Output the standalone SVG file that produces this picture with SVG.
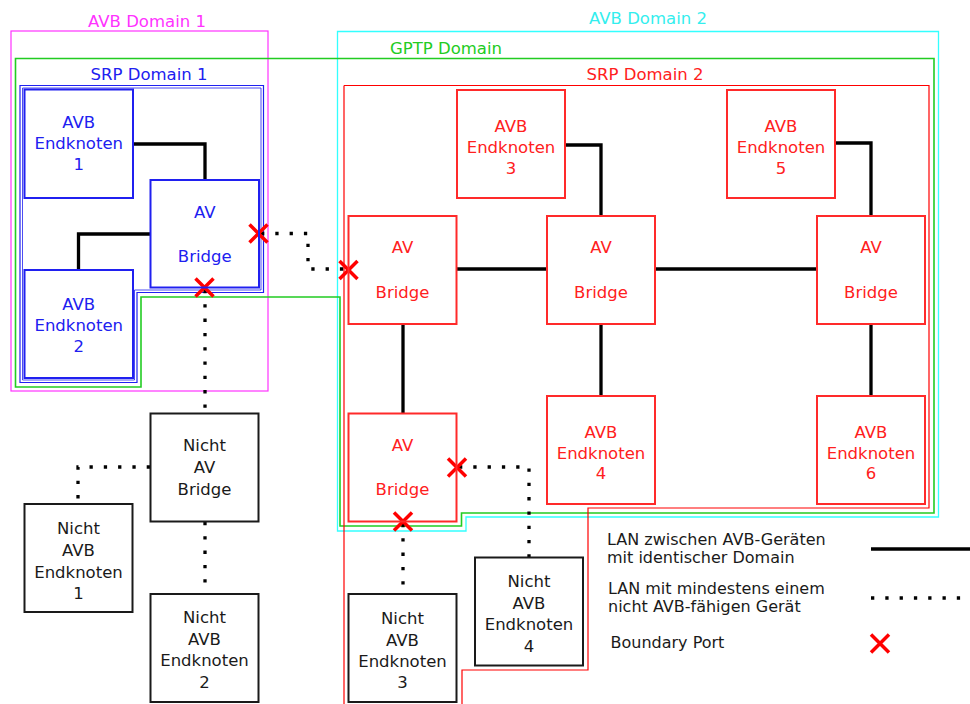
<svg xmlns="http://www.w3.org/2000/svg" xmlns:xlink="http://www.w3.org/1999/xlink" width="970" height="704" viewBox="0 0 970 704">
<style>
text{font-family:"DejaVu Sans","Liberation Sans",sans-serif;font-size:16.5px;text-anchor:middle}
.blue rect{fill:none;stroke:#2020f0;stroke-width:2}
.blue text{fill:#2020f0}
.red rect{fill:none;stroke:#ff2a2a;stroke-width:2}
.red text{fill:#ff2020}
.black rect{fill:none;stroke:#1a1a1a;stroke-width:2}
.black text{fill:#1a1a1a}
.dom{fill:none}
.solid{fill:none;stroke:#000;stroke-width:3.3}
.dot{fill:none;stroke:#000;stroke-width:3.3;stroke-dasharray:3.3 11}
.leg{text-anchor:start;fill:#1a1a1a;font-size:16px}
</style>
<defs>
<path id="bx" d="M-9,-9L9,9M-9,9L9,-9" stroke="#ff0000" stroke-width="3.5" fill="none"/>
</defs>

<g id="domains">
<rect class="dom" x="11" y="31" width="257" height="360" stroke="#ff33ff" stroke-width="1.2"/>
<text x="147" y="26.5" fill="#ff33ff">AVB Domain 1</text>
<path class="dom" d="M337.5,31.5H938.5V517H466V531H337.5Z" stroke="#33ffff" stroke-width="1.3"/>
<text x="648" y="24" fill="#33eeee">AVB Domain 2</text>
<path class="dom" d="M15.5,58.5H934V513H461.5V526H340V297H141V387H15.5Z" stroke="#22cc22" stroke-width="1.6"/>
<text x="446" y="54" fill="#22cc22">GPTP Domain</text>
<path class="dom" d="M20,85.5H263.5V292.5H137V382.5H20Z" stroke="#2020f0" stroke-width="1.2"/>
<path class="dom" d="M22.5,88H261V290H134.5V380H22.5Z" stroke="#2020f0" stroke-width="0.8"/>
<text x="149" y="80" fill="#2020f0">SRP Domain 1</text>
<path class="dom" d="M344,85.5H929V508H588V670H462V712M344,85.5V712" stroke="#ff0000" stroke-width="1.2"/>
<text x="645" y="80" fill="#ff2020">SRP Domain 2</text>
</g>

<g id="connectors">
<path class="solid" d="M133,144H205V180"/>
<path class="solid" d="M150,234H78.5V270"/>
<path class="solid" d="M565,145H601V216"/>
<path class="solid" d="M835,143H871V216"/>
<path class="solid" d="M457,269H547"/>
<path class="solid" d="M655,269H817"/>
<path class="solid" d="M403,324V413"/>
<path class="solid" d="M601,324V396"/>
<path class="solid" d="M871,324V396"/>
<path class="dot" d="M261,233.5H308V269H348"/>
<path class="dot" d="M205,290V413"/>
<path class="dot" d="M150,467H78V504"/>
<path class="dot" d="M205,522V594"/>
<path class="dot" d="M403,524V594"/>
<path class="dot" d="M459,467H529V557"/>
</g>

<g id="ports">
<use xlink:href="#bx" x="258.5" y="233.5"/>
<use xlink:href="#bx" x="204.5" y="287.5"/>
<use xlink:href="#bx" x="348.5" y="270"/>
<use xlink:href="#bx" x="457" y="467.5"/>
<use xlink:href="#bx" x="403" y="521.5"/>
</g>

<g id="avb-endknoten-1" class="blue"><rect x="24.5" y="89.5" width="108.5" height="108.5"/>
<text x="78.75" y="128">AVB</text><text x="78.75" y="149">Endknoten</text><text x="78.75" y="170">1</text></g>
<g id="av-bridge-1" class="blue"><rect x="150.5" y="180" width="108.5" height="107.5"/>
<text x="204.75" y="218">AV</text><text x="204.75" y="262">Bridge</text></g>
<g id="avb-endknoten-2" class="blue"><rect x="24.5" y="270" width="108.5" height="108"/>
<text x="78.75" y="310">AVB</text><text x="78.75" y="331">Endknoten</text><text x="78.75" y="352">2</text></g>

<g id="avb-endknoten-3" class="red"><rect x="457" y="90" width="108" height="108"/>
<text x="511" y="132">AVB</text><text x="511" y="153">Endknoten</text><text x="511" y="174">3</text></g>
<g id="avb-endknoten-5" class="red"><rect x="727" y="90" width="108" height="108"/>
<text x="781" y="132">AVB</text><text x="781" y="153">Endknoten</text><text x="781" y="174">5</text></g>
<g id="av-bridge-a" class="red"><rect x="348.5" y="216" width="108" height="108"/>
<text x="402.5" y="253">AV</text><text x="402.5" y="298">Bridge</text></g>
<g id="av-bridge-b" class="red"><rect x="547" y="216" width="108" height="108"/>
<text x="601" y="253">AV</text><text x="601" y="298">Bridge</text></g>
<g id="av-bridge-c" class="red"><rect x="817" y="216" width="108" height="108"/>
<text x="871" y="253">AV</text><text x="871" y="298">Bridge</text></g>
<g id="av-bridge-d" class="red"><rect x="348.5" y="413.5" width="108" height="108"/>
<text x="402.5" y="451">AV</text><text x="402.5" y="495">Bridge</text></g>
<g id="avb-endknoten-4" class="red"><rect x="547" y="396" width="108" height="108"/>
<text x="601" y="438">AVB</text><text x="601" y="459">Endknoten</text><text x="601" y="479">4</text></g>
<g id="avb-endknoten-6" class="red"><rect x="817" y="396" width="108" height="108"/>
<text x="871" y="438">AVB</text><text x="871" y="459">Endknoten</text><text x="871" y="479">6</text></g>

<g id="nicht-av-bridge" class="black"><rect x="150.5" y="413.5" width="108" height="108"/>
<text x="204.5" y="451">Nicht</text><text x="204.5" y="473">AV</text><text x="204.5" y="495">Bridge</text></g>
<g id="nicht-avb-endknoten-1" class="black"><rect x="24.5" y="504" width="108" height="108"/>
<text x="78.5" y="534">Nicht</text><text x="78.5" y="556">AVB</text><text x="78.5" y="578">Endknoten</text><text x="78.5" y="599">1</text></g>
<g id="nicht-avb-endknoten-2" class="black"><rect x="150.5" y="594" width="108" height="108"/>
<text x="204.5" y="623">Nicht</text><text x="204.5" y="645">AVB</text><text x="204.5" y="666">Endknoten</text><text x="204.5" y="688">2</text></g>
<g id="nicht-avb-endknoten-3" class="black"><rect x="348.5" y="594" width="108" height="108"/>
<text x="402.5" y="624">Nicht</text><text x="402.5" y="646">AVB</text><text x="402.5" y="667">Endknoten</text><text x="402.5" y="688">3</text></g>
<g id="nicht-avb-endknoten-4" class="black"><rect x="475" y="557.5" width="108" height="108"/>
<text x="529" y="587">Nicht</text><text x="529" y="609">AVB</text><text x="529" y="630">Endknoten</text><text x="529" y="652">4</text></g>

<g id="legend">
<text class="leg" x="607" y="544.5">LAN zwischen AVB-Geräten</text>
<text class="leg" x="607" y="562.5">mit identischer Domain</text>
<text class="leg" x="608" y="593.5">LAN mit mindestens einem</text>
<text class="leg" x="608" y="611.5">nicht AVB-fähigen Gerät</text>
<text class="leg" x="610.5" y="647.5">Boundary Port</text>
<path class="solid" d="M871,549H970"/>
<path class="dot" d="M871,598H970"/>
<use xlink:href="#bx" x="880" y="643.5"/>
</g>
</svg>
